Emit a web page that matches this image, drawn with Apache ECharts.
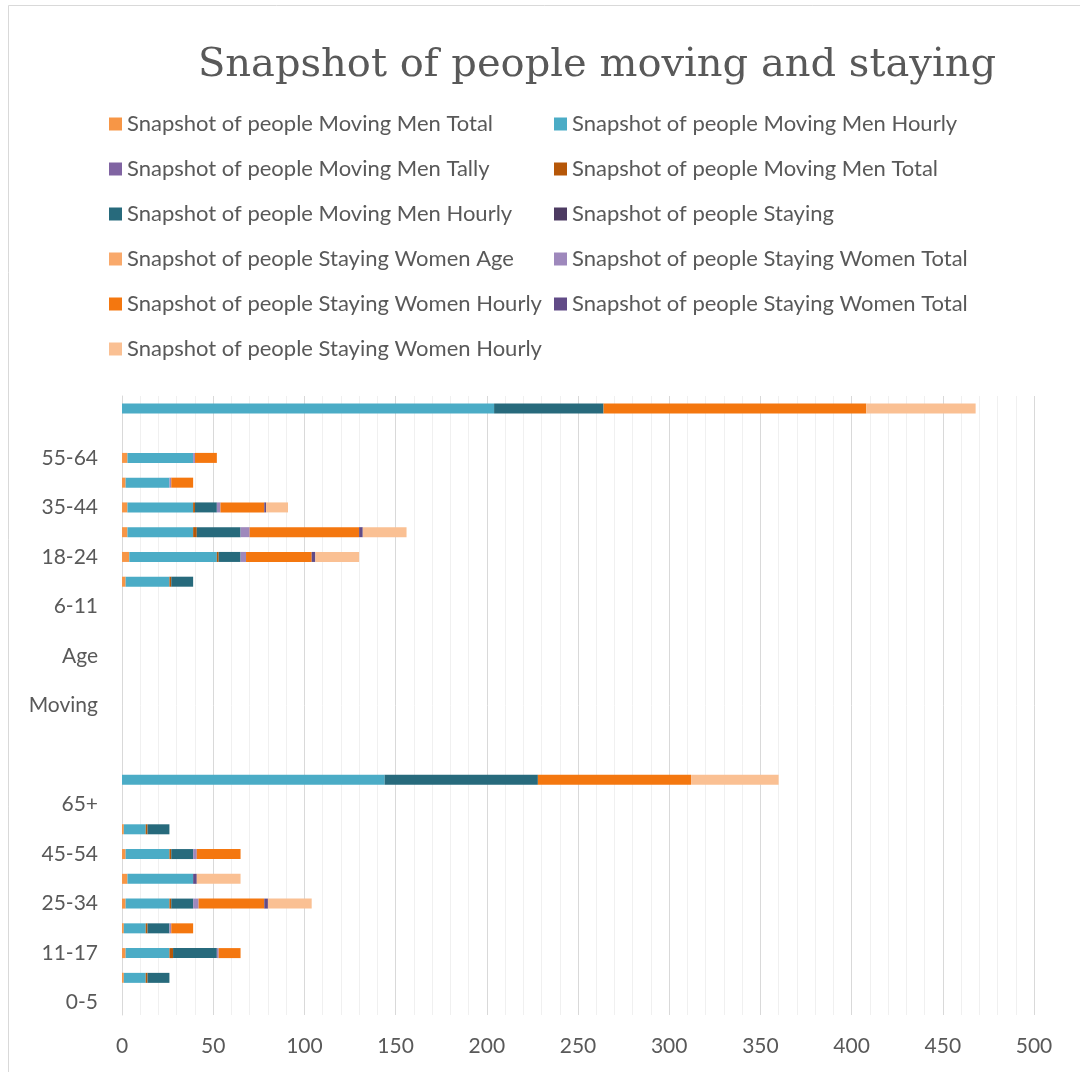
<!DOCTYPE html>
<html>
<head>
<meta charset="utf-8">
<title>Snapshot of people moving and staying</title>
<script src="https://cdn.jsdelivr.net/npm/echarts@6/dist/echarts.min.js"></script>
<style>
  html, body { margin: 0; padding: 0; background: #ffffff; }
  #chart { width: 1080px; height: 1072px; }
</style>
</head>
<body>
<div id="chart"></div>
<script>
// Age bands, listed bottom to top as they sit on the category axis
const categories = [
  '0-5', '6-11', '11-17', '18-24', '25-34', '35-44', '45-54', '55-64', '65+', 'Total',
  '', 'Staying', 'Moving', 'Men', 'Age',
  '0-5', '6-11', '11-17', '18-24', '25-34', '35-44', '45-54', '55-64', '65+', ''
];

// Value axis ticks
const xTicks = [0, 50, 100, 150, 200, 250, 300, 350, 400, 450, 500];

// Series values, one entry per category (null = blank cell)
const movingMenTotal      = [null, 1, 2, 1, 2, 3, 2, 1, null, null, null, null, null, null, null, null, null, 2, 4, 3, 3, 2, 3, null, null];
const movingMenHourly     = [null, 12, 24, 12, 24, 36, 24, 12, null, 144, null, null, null, null, null, null, null, 24, 48, 36, 36, 24, 36, null, 204];
const movingMenTally      = [];
const movingMenTotal2     = [null, 1, 2, 1, 1, null, 1, 1, null, null, null, null, null, null, null, null, null, 1, 1, 2, 1, null, null, null, null];
const movingMenHourly2    = [null, 12, 24, 12, 12, null, 12, 12, null, 84, null, null, null, null, null, null, null, 12, 12, 24, 12, null, null, null, 60];
const staying             = [];
const stayingWomenAge     = [];
const stayingWomenTotal   = [null, null, 1, 1, 3, null, 2, null, null, null, null, null, null, null, null, null, null, null, 3, 5, 2, 1, 1, null, null];
const stayingWomenHourly  = [null, null, 12, 12, 36, null, 24, null, null, 84, null, null, null, null, null, null, null, null, 36, 60, 24, 12, 12, null, 144];
const stayingWomenTotal2  = [null, null, null, null, 2, 2, null, null, null, null, null, null, null, null, null, null, null, null, 2, 2, 1, null, null, null, null];
const stayingWomenHourly2 = [null, null, null, null, 24, 24, null, null, null, 48, null, null, null, null, null, null, null, null, 24, 24, 12, null, null, null, 60];

const seriesDefs = [
  { name: 'Snapshot of people Moving Men Total',      data: movingMenTotal,      color: '#F79646' },
  { name: 'Snapshot of people Moving Men Hourly',     data: movingMenHourly,     color: '#4BACC6' },
  { name: 'Snapshot of people Moving Men Tally',      data: movingMenTally,      color: '#8064A2' },
  { name: 'Snapshot of people Moving Men Total ',     data: movingMenTotal2,     color: '#B65708' },
  { name: 'Snapshot of people Moving Men Hourly ',    data: movingMenHourly2,    color: '#276A7C' },
  { name: 'Snapshot of people Staying',               data: staying,             color: '#4D3B62' },
  { name: 'Snapshot of people Staying Women Age',     data: stayingWomenAge,     color: '#F9A96B' },
  { name: 'Snapshot of people Staying Women Total',   data: stayingWomenTotal,   color: '#9E88BC' },
  { name: 'Snapshot of people Staying Women Hourly',  data: stayingWomenHourly,  color: '#F4770F' },
  { name: 'Snapshot of people Staying Women Total ',  data: stayingWomenTotal2,  color: '#614B87' },
  { name: 'Snapshot of people Staying Women Hourly ', data: stayingWomenHourly2, color: '#FAC093' }
];

const textColor = '#595959';
const sansFont = 'Lato';

const legendStyle = {
  orient: 'vertical',
  top: 112,
  padding: 0,
  icon: 'rect',
  itemWidth: 13,
  itemHeight: 13,
  itemGap: 21,
  textStyle: { fontFamily: sansFont, fontSize: 22, color: textColor, lineHeight: 24 }
};

const chart = echarts.init(document.getElementById('chart'), null, { renderer: 'canvas' });

chart.setOption({
  animation: false,
  backgroundColor: '#ffffff',
  title: {
    text: 'Snapshot of people moving and staying',
    left: 597,
    top: 46,
    textAlign: 'center',
    padding: 0,
    textStyle: { fontFamily: 'DejaVu Serif', fontSize: 40, fontWeight: 'normal', color: textColor }
  },
  graphic: [{
    type: 'rect',
    shape: { x: 8.5, y: 5.5, width: 1200, height: 1200 },
    style: { fill: 'none', stroke: '#d9d9d9', lineWidth: 1 },
    silent: true,
    z: -1
  }],
  legend: [
    Object.assign({ left: 109, data: seriesDefs.filter((s, i) => i % 2 === 0).map(s => s.name) }, legendStyle),
    Object.assign({ left: 554, data: seriesDefs.filter((s, i) => i % 2 === 1).map(s => s.name) }, legendStyle)
  ],
  grid: { left: 122, right: 46, top: 396, bottom: 57, containLabel: false },
  xAxis: {
    type: 'value',
    min: xTicks[0],
    max: xTicks[xTicks.length - 1],
    interval: xTicks[1] - xTicks[0],
    axisLine: { show: false },
    axisTick: { show: false },
    axisLabel: { fontFamily: sansFont, fontSize: 21, color: textColor, margin: 21 },
    splitLine: { show: true, lineStyle: { color: '#d9d9d9', width: 1 } },
    minorTick: { show: false, splitNumber: 5 },
    minorSplitLine: { show: true, lineStyle: { color: '#f0f0f0', width: 1 } }
  },
  yAxis: {
    type: 'category',
    data: categories,
    axisLine: { show: true, lineStyle: { color: '#d9d9d9', width: 1 } },
    axisTick: { show: false },
    axisLabel: { interval: 1, fontFamily: sansFont, fontSize: 21, color: textColor, margin: 24 },
    splitLine: { show: false }
  },
  series: seriesDefs.map(s => ({
    name: s.name,
    type: 'bar',
    stack: 'people',
    barWidth: 10,
    data: s.data,
    itemStyle: { color: s.color },
    emphasis: { disabled: true }
  }))
});
</script>
</body>
</html>
